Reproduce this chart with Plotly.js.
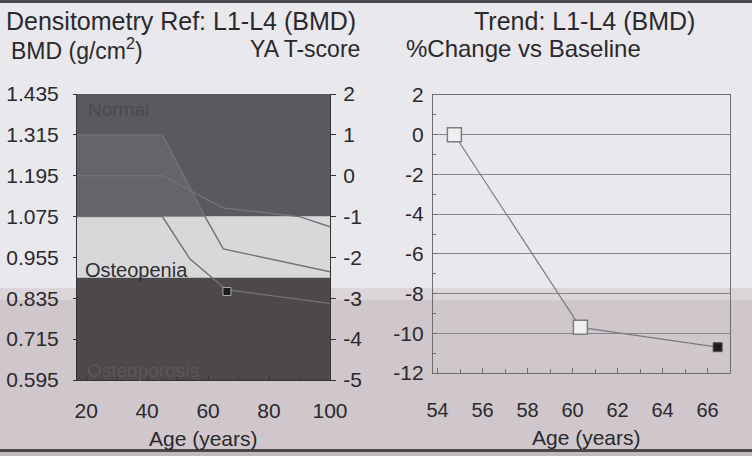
<!DOCTYPE html>
<html>
<head>
<meta charset="utf-8">
<script src="https://cdn.plot.ly/plotly-3.0.1.min.js"></script>
<style>html,body{margin:0;padding:0;background:#e8e7eb;}#chart{width:752px;height:456px;}</style>
</head>
<body>
<div id="chart"></div>
<script>
// ---------- Data ----------
// Left chart: reference bands (T-score thresholds) and reference curves (BMD g/cm2 vs age)
const ymMean = 1.195;            // young-adult mean BMD (T = 0)
const ymSD = 0.12;               // one T-score unit in BMD
const bmdTicks = [1.435, 1.315, 1.195, 1.075, 0.955, 0.835, 0.715, 0.595];
const tScoreTicks = [2, 1, 0, -1, -2, -3, -4, -5];
const ageTicksLeft = [20, 40, 60, 80, 100];
const bandNames = ['Normal', 'Osteopenia', 'Osteoporosis'];
const bandTopT = [2, -1, -2.5];
const bandBottomT = [-1, -2.5, -5];
const bandColors = ['#5a5a5e', '#d8d8db', '#4d484b'];

const refUpperAge = [17, 45, 59, 65, 100];
const refUpperBmd = [1.315, 1.315, 1.075, 0.980, 0.913];
const refMidAge = [17, 45, 65, 90, 100];
const refMidBmd = [1.195, 1.195, 1.100, 1.075, 1.045];
const refLowerAge = [17, 45, 54, 66, 100];
const refLowerBmd = [1.075, 1.075, 0.951, 0.860, 0.820];

const patientAge = [66.2];
const patientBmd = [0.855];

// Right chart: trend, % change vs baseline
const trendAge = [54.75, 60.35, 66.45];
const trendPct = [0.0, -9.7, -10.7];
const trendTicksX = [54, 56, 58, 60, 62, 64, 66];
const trendTicksY = [2, 0, -2, -4, -6, -8, -10, -12];

// ---------- Helpers ----------
const tToBmd = t => Math.round((ymMean + ymSD * t) * 1e6) / 1e6;
const hy = v => String(v).replace('\u2212', '-');
const FONT = 'Liberation Sans, Arial, sans-serif';
const TXT = '#2a292d';

const traces = [];
const x0 = 17, x1 = 100;
bandNames.forEach((n, i) => {
  const top = tToBmd(bandTopT[i]), bot = tToBmd(bandBottomT[i]);
  traces.push({x: [x0, x1, x1, x0, x0], y: [top, top, bot, bot, top], xaxis: 'x', yaxis: 'y',
    mode: 'lines', fill: 'toself', fillcolor: bandColors[i], line: {width: 0, simplify: false}, hoverinfo: 'skip', showlegend: false});
});
// lighter shading under the upper reference curve inside the Normal band
{
  const normBot = tToBmd(bandBottomT[0]);
  const xs = [], ys = [];
  for (let i = 0; i < refUpperAge.length; i++) {
    if (refUpperBmd[i] >= normBot - 1e-6) { xs.push(refUpperAge[i]); ys.push(refUpperBmd[i]); }
  }
  traces.push({x: xs, y: xs.map(() => normBot), xaxis: 'x', yaxis: 'y', mode: 'lines',
    line: {width: 0, simplify: false}, hoverinfo: 'skip', showlegend: false});
  traces.push({x: xs, y: ys, xaxis: 'x', yaxis: 'y', mode: 'lines', fill: 'tonexty', fillcolor: '#656569',
    line: {width: 0, simplify: false}, hoverinfo: 'skip', showlegend: false});
}
[[refUpperAge, refUpperBmd], [refMidAge, refMidBmd], [refLowerAge, refLowerBmd]].forEach(([a, b]) => {
  traces.push({x: a, y: b, xaxis: 'x', yaxis: 'y', mode: 'lines', line: {color: '#737377', width: 1.4},
    hoverinfo: 'skip', showlegend: false});
});
traces.push({x: patientAge, y: patientBmd, xaxis: 'x', yaxis: 'y', mode: 'markers',
  marker: {symbol: 'square', size: 8, color: '#1e1c1e', line: {color: '#aaa', width: 1}}, showlegend: false});
// invisible trace for T-score axis
traces.push({x: [x0], y: [0], xaxis: 'x', yaxis: 'y2', mode: 'markers', marker: {opacity: 0}, hoverinfo: 'skip', showlegend: false});

// Right chart
traces.push({x: trendAge, y: trendPct, xaxis: 'x2', yaxis: 'y3', mode: 'lines',
  line: {color: '#7a7a7e', width: 1.2}, showlegend: false});
traces.push({x: trendAge.slice(0, 2), y: trendPct.slice(0, 2), xaxis: 'x2', yaxis: 'y3', mode: 'markers',
  marker: {symbol: 'square', size: 14, color: '#efeef0', line: {color: '#7d7d80', width: 1.5}}, showlegend: false});
traces.push({x: trendAge.slice(2), y: trendPct.slice(2), xaxis: 'x2', yaxis: 'y3', mode: 'markers',
  marker: {symbol: 'square', size: 9, color: '#1f1c1e', line: {color: '#555', width: 1}}, showlegend: false});

const W = 752, H = 456;
const yDomL = [(H - 380) / H, (H - 94) / H];
const yDomR = [(H - 373) / H, (H - 95) / H];

const ann = (text, x, y, xa, size, extra) => Object.assign({text, x: x / W, y: 1 - y / H, xref: 'paper', yref: 'paper',
  xanchor: xa, yanchor: 'middle', showarrow: false, font: {family: FONT, size, color: TXT}}, extra || {});

const layout = {
  width: W, height: H,
  margin: {l: 0, r: 0, t: 0, b: 0},
  paper_bgcolor: '#e9e8ec', plot_bgcolor: 'rgba(0,0,0,0)',
  font: {family: FONT, color: TXT, size: 21},
  showlegend: false,
  xaxis: {domain: [77 / W, 330 / W], anchor: 'y', range: [x0, x1], tickvals: ageTicksLeft,
    ticktext: ageTicksLeft.map(String), ticks: 'inside', ticklen: 4, tickcolor: '#333',
    minor: {dtick: 10, ticks: 'inside', ticklen: 3, tickcolor: '#333'},
    showgrid: false, zeroline: false, showline: true, linecolor: '#333', linewidth: 1,
    tickfont: {size: 21}, ticklabelstandoff: 12, fixedrange: true},
  yaxis: {domain: yDomL, anchor: 'x', range: [0.595, 1.435], tickvals: bmdTicks, ticktext: bmdTicks.map(v => v.toFixed(3)),
    ticks: 'outside', ticklen: 3, tickcolor: '#333', showgrid: false, zeroline: false, showline: true, linecolor: '#333',
    tickfont: {size: 21}, ticklabelstandoff: 10},
  yaxis2: {overlaying: 'y', side: 'right', anchor: 'x', range: [-5, 2], tickvals: tScoreTicks, ticktext: tScoreTicks.map(hy),
    ticks: 'outside', ticklen: 5, tickcolor: '#333', showgrid: false, zeroline: false, showline: true, linecolor: '#333',
    tickfont: {size: 21}, ticklabelstandoff: 3},
  xaxis2: {domain: [433 / W, 730 / W], anchor: 'y3', range: [53.8, 67], tickvals: trendTicksX, ticktext: trendTicksX.map(String),
    ticks: 'inside', ticklen: 5, tickcolor: '#6e6e72', minor: {dtick: 1, ticks: 'inside', ticklen: 4, tickcolor: '#6e6e72'},
    showgrid: false, zeroline: false, showline: true, mirror: true, linecolor: '#6e6e72', linewidth: 1.2,
    tickfont: {size: 20}, ticklabelstandoff: 19},
  yaxis3: {domain: yDomR, anchor: 'x2', range: [-12, 2], tickvals: trendTicksY, ticktext: trendTicksY.map(hy),
    ticks: 'inside', ticklen: 4, tickcolor: '#6e6e72', minor: {dtick: 1, ticks: 'inside', ticklen: 3, tickcolor: '#6e6e72'},
    showgrid: true, gridcolor: '#87878b', gridwidth: 1, zeroline: false, showline: true, mirror: true,
    linecolor: '#6e6e72', linewidth: 1.2, tickfont: {size: 21}, ticklabelstandoff: 4},
  shapes: [
    {type: 'rect', xref: 'paper', yref: 'paper', x0: 0, x1: 1, y0: 0, y1: (H - 300) / H, fillcolor: '#cfc7cb', line: {width: 0}, layer: 'below'},
    {type: 'rect', xref: 'paper', yref: 'paper', x0: 0, x1: 1, y0: (H - 300) / H, y1: (H - 288) / H, fillcolor: '#dcd6da', line: {width: 0}, layer: 'below'},
    {type: 'rect', xref: 'paper', yref: 'paper', x0: 0, x1: 1, y0: 1 - 3 / H, y1: 1, fillcolor: '#4a4a4e', line: {width: 0}, layer: 'below'},
    {type: 'rect', xref: 'paper', yref: 'paper', x0: 0, x1: 1, y0: 4 / H, y1: 7 / H, fillcolor: '#4a4649', line: {width: 0}, layer: 'below'},
    {type: 'rect', xref: 'paper', yref: 'paper', x0: 0, x1: 1, y0: 0, y1: 4 / H, fillcolor: '#c2babe', line: {width: 0}, layer: 'below'}
  ],
  annotations: [
    ann('Densitometry Ref: L1-L4 (BMD)', 4, 21, 'left', 25),
    ann('BMD (g/cm<sup>2</sup>)', 9, 49, 'left', 23),
    ann('YA T-score', 362, 49, 'right', 23),
    ann('Trend: L1-L4 (BMD)', 584, 21, 'center', 25),
    ann('%Change vs Baseline', 404, 49, 'left', 24),
    ann('Age (years)', 203, 438, 'center', 21),
    ann('Age (years)', 586, 437, 'center', 21),
    {text: 'Normal', x: 20, y: 1.39, xref: 'x', yref: 'y', xanchor: 'left', yanchor: 'middle', showarrow: false,
      font: {family: FONT, size: 19, color: '#4a4a4e'}},
    {text: 'Osteopenia', x: 19, y: 0.918, xref: 'x', yref: 'y', xanchor: 'left', yanchor: 'middle', showarrow: false,
      font: {family: FONT, size: 20, color: '#2e2e31'}},
    {text: 'Osteoporosis', x: 19.5, y: 0.622, xref: 'x', yref: 'y', xanchor: 'left', yanchor: 'middle', showarrow: false,
      font: {family: FONT, size: 19, color: '#5d575a'}}
  ]
};

Plotly.newPlot('chart', traces, layout, {staticPlot: true, displayModeBar: false});
</script>
</body>
</html>
